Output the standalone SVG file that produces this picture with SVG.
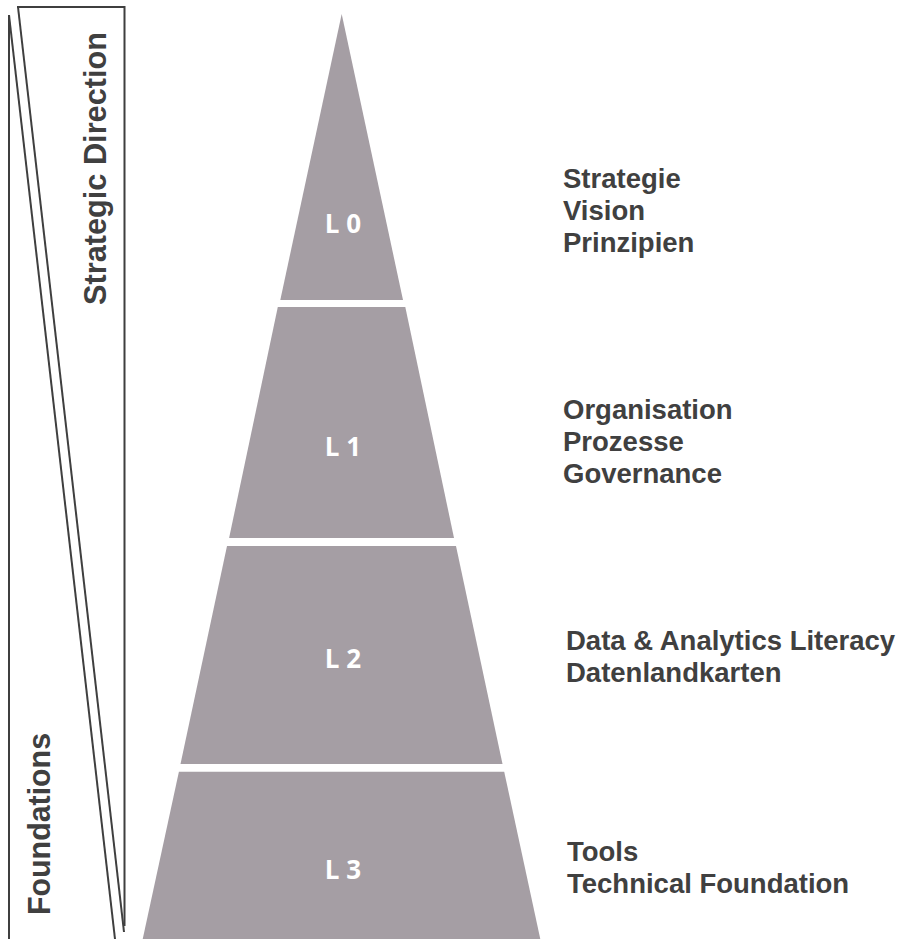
<svg xmlns="http://www.w3.org/2000/svg" width="910" height="939" viewBox="0 0 910 939">
  <style>
    .frame { fill: none; stroke: #3f3f3f; stroke-width: 2; }
    .layer { fill: #a59ea4; }
    .lvl { font-family: "Open Sans", "Liberation Sans", sans-serif; font-weight: bold; font-size: 26px; fill: #ffffff; text-anchor: middle; }
    .side { font-family: "Liberation Sans", Arial, sans-serif; font-weight: bold; font-size: 32px; fill: #404040; }
    .desc { font-family: "Liberation Sans", Arial, sans-serif; font-weight: bold; font-size: 27.5px; fill: #404040; }
  </style>
  <rect x="0" y="0" width="910" height="939" fill="#ffffff"/>

  <g id="frame">
    <line class="frame" x1="9" y1="15" x2="9" y2="939"/>
    <line class="frame" x1="9" y1="15" x2="115" y2="939"/>
    <line class="frame" x1="17" y1="7" x2="125" y2="7"/>
    <line class="frame" x1="18" y1="7" x2="124" y2="932"/>
    <line class="frame" x1="124.5" y1="6" x2="124.5" y2="926"/>
    <text class="side" transform="translate(106,305) rotate(-90)" textLength="273" lengthAdjust="spacingAndGlyphs">Strategic Direction</text>
    <text class="side" transform="translate(49.5,915) rotate(-90)" textLength="182" lengthAdjust="spacingAndGlyphs">Foundations</text>
  </g>

  <g id="L0">
    <polygon class="layer" points="341.7,14 403,300 280.3,300"/>
    <text class="lvl" x="343" y="233">L 0</text>
  </g>
  <g id="L1">
    <polygon class="layer" points="277.8,307 405.3,307 454,538 229.1,538"/>
    <text class="lvl" x="343" y="456">L 1</text>
  </g>
  <g id="L2">
    <polygon class="layer" points="227,546 456,546 502.5,764 180.5,764"/>
    <text class="lvl" x="343" y="668">L 2</text>
  </g>
  <g id="L3">
    <polygon class="layer" points="178.9,771.7 504.2,771.7 540.5,940 142.5,940"/>
    <text class="lvl" x="343" y="878.5">L 3</text>
  </g>

  <g id="desc-L0">
    <text class="desc" x="563" y="187.5">Strategie</text>
    <text class="desc" x="563" y="219.5">Vision</text>
    <text class="desc" x="563" y="251.5">Prinzipien</text>
  </g>
  <g id="desc-L1">
    <text class="desc" x="563" y="419">Organisation</text>
    <text class="desc" x="563" y="451">Prozesse</text>
    <text class="desc" x="563" y="483">Governance</text>
  </g>
  <g id="desc-L2">
    <text class="desc" x="566" y="650">Data &amp; Analytics Literacy</text>
    <text class="desc" x="566" y="682">Datenlandkarten</text>
  </g>
  <g id="desc-L3">
    <text class="desc" x="567" y="861">Tools</text>
    <text class="desc" x="567" y="893">Technical Foundation</text>
  </g>
</svg>
